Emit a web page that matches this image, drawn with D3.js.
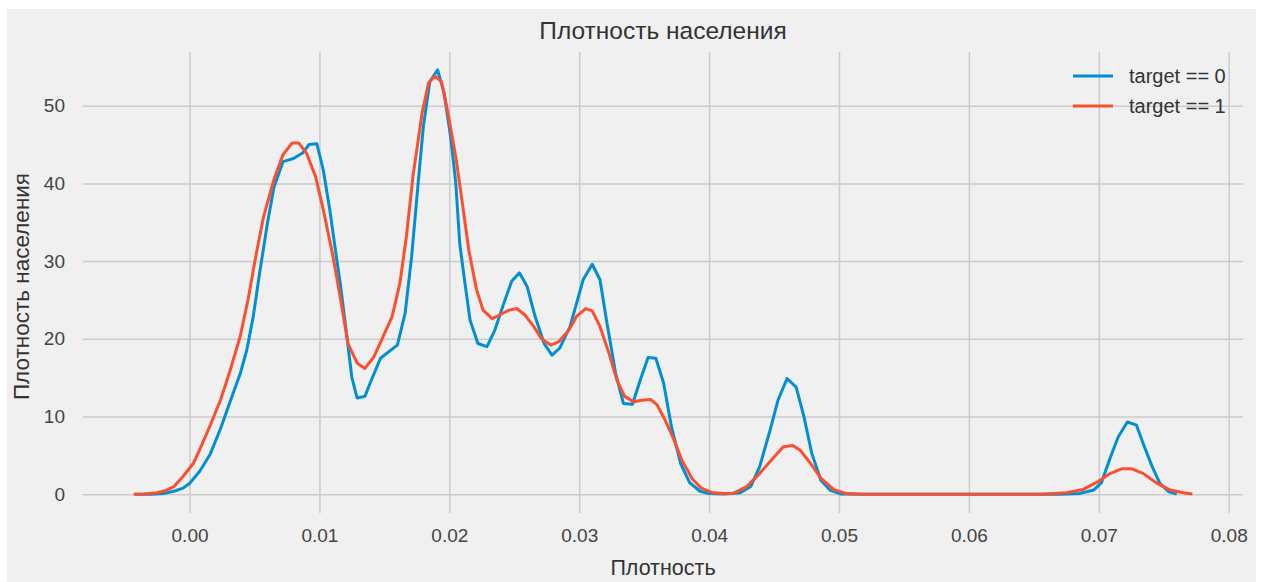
<!DOCTYPE html>
<html>
<head>
<meta charset="utf-8">
<script src="https://cdn.jsdelivr.net/npm/d3@7"></script>
<style>
  body { margin: 0; background: #fff; }
  svg { display: block; font-family: "Liberation Sans", Arial, sans-serif; }
</style>
</head>
<body>
<svg width="1261" height="582"></svg>
<script>
// density curves (x = плотность, y = плотность населения)
const x0 = [-0.0042,-0.0030,-0.0020,-0.0012,-0.0005,0.0000,0.0008,0.0016,0.0024,0.0031,0.0039,0.0044,0.0049,0.0054,0.0060,0.0065,0.0072,0.0080,0.0087,0.0092,0.0098,0.0103,0.0108,0.0113,0.0116,0.0121,0.0125,0.0129,0.0135,0.0140,0.0147,0.0153,0.0160,0.0166,0.0171,0.0176,0.0180,0.0185,0.0191,0.0196,0.0201,0.0205,0.0208,0.0212,0.0216,0.0222,0.0229,0.0235,0.0242,0.0248,0.0254,0.0260,0.0266,0.0273,0.0279,0.0285,0.0293,0.0303,0.0310,0.0316,0.0321,0.0328,0.0334,0.0341,0.0347,0.0353,0.0359,0.0365,0.0371,0.0378,0.0385,0.0393,0.0400,0.0412,0.0424,0.0432,0.0439,0.0447,0.0453,0.0460,0.0467,0.0473,0.0479,0.0486,0.0493,0.0501,0.0520,0.0600,0.0670,0.0685,0.0696,0.0702,0.0709,0.0715,0.0722,0.0729,0.0734,0.0741,0.0747,0.0754,0.0760];
const y0 = [0,0.02,0.1,0.4,0.8,1.4,3.0,5.2,8.5,11.8,15.5,18.5,22.8,28.5,34.9,39.5,42.8,43.2,43.9,45.0,45.1,41.7,36.6,30.6,27.2,20.5,15.0,12.4,12.6,14.7,17.5,18.3,19.2,23.3,30.6,40.0,47.3,53.1,54.6,51.6,46.0,40.0,32.3,27.2,22.4,19.4,19.0,21.1,24.6,27.4,28.5,26.7,22.9,19.4,17.9,18.8,21.6,27.6,29.6,27.6,22.4,15.6,11.7,11.6,14.7,17.6,17.5,14.3,8.7,4.0,1.5,0.4,0.1,0.05,0.2,1.0,3.6,8.3,12.1,14.9,13.8,10.0,5.3,1.8,0.55,0.05,0,0,0,0.1,0.55,1.5,4.8,7.4,9.3,8.9,6.6,3.6,1.4,0.33,0.02];

const x1 = [-0.0043,-0.0035,-0.0025,-0.0018,-0.0012,-0.0005,0.0003,0.0008,0.0016,0.0024,0.0031,0.0039,0.0045,0.0051,0.0057,0.0065,0.0072,0.0079,0.0084,0.0090,0.0097,0.0103,0.0110,0.0116,0.0122,0.0129,0.0135,0.0142,0.0148,0.0156,0.0162,0.0167,0.0172,0.0179,0.0184,0.0189,0.0194,0.0199,0.0205,0.0210,0.0215,0.0221,0.0226,0.0233,0.0239,0.0246,0.0252,0.0258,0.0265,0.0271,0.0278,0.0284,0.0292,0.0298,0.0305,0.0310,0.0316,0.0323,0.0329,0.0335,0.0342,0.0348,0.0355,0.0360,0.0366,0.0373,0.0379,0.0387,0.0394,0.0403,0.0412,0.0419,0.0429,0.0439,0.0450,0.0457,0.0464,0.0470,0.0478,0.0486,0.0496,0.0506,0.0520,0.0600,0.0655,0.0675,0.0688,0.0699,0.0709,0.0718,0.0725,0.0734,0.0745,0.0755,0.0765,0.0772];
const y1 = [0,0.03,0.2,0.5,1.0,2.3,4.0,5.8,8.9,12.2,15.8,20.3,25.0,30.6,35.7,40.5,43.7,45.2,45.2,43.9,40.9,36.6,31.0,25.4,19.4,16.9,16.2,17.7,19.9,22.9,27.2,33.2,40.9,49.0,52.9,53.8,53.1,49.0,43.4,37.5,31.4,26.3,23.7,22.6,23.1,23.7,23.9,23.1,21.6,20.0,19.2,19.6,21.1,22.9,23.9,23.6,21.6,18.1,14.7,12.6,11.9,12.1,12.2,11.5,9.6,7.0,4.4,2.0,0.8,0.2,0.1,0.15,1.0,2.7,4.8,6.1,6.3,5.7,4.0,2.1,0.6,0.1,0.02,0,0,0.2,0.64,1.6,2.7,3.3,3.3,2.7,1.4,0.55,0.2,0.05];

const seriesNames = ["target == 0", "target == 1"];
const colors = ["#008fd5", "#fc4f30"];
const xTicks = [0, 0.01, 0.02, 0.03, 0.04, 0.05, 0.06, 0.07, 0.08];
const yTicks = [0, 10, 20, 30, 40, 50];

const svg = d3.select("svg");
const width = +svg.attr("width");
const height = +svg.attr("height");

svg.append("rect")
  .attr("x", 7).attr("y", 9)
  .attr("width", width - 12).attr("height", height - 9)
  .attr("fill", "#f0f0f0");

const margin = {top: 52, right: 18, bottom: 69, left: 83};
const innerWidth = width - margin.left - margin.right;
const innerHeight = height - margin.top - margin.bottom;

const xScale = d3.scaleLinear()
  .domain([-0.0082, 0.0811])
  .range([0, innerWidth]);

const yScale = d3.scaleLinear()
  .domain([-2.4, 56.9])
  .range([innerHeight, 0]);

const g = svg.append("g")
  .attr("transform", `translate(${margin.left}, ${margin.top})`);

// grid + tick labels
const xAxis = g.append("g")
  .attr("transform", `translate(0, ${innerHeight})`)
  .call(d3.axisBottom(xScale).tickValues(xTicks).tickFormat(d3.format(".2f"))
    .tickSize(-innerHeight).tickPadding(16));

const yAxis = g.append("g")
  .call(d3.axisLeft(yScale).tickValues(yTicks).tickFormat(d3.format("d"))
    .tickSize(-innerWidth).tickPadding(18));

[xAxis, yAxis].forEach(ax => {
  ax.select(".domain").remove();
  ax.selectAll(".tick line").attr("stroke", "#cbcbcb").attr("stroke-width", 1.5);
  ax.selectAll(".tick text")
    .attr("fill", "#444")
    .style("font-size", "19px");
});

const line = d3.line()
  .x(d => xScale(d[0]))
  .y(d => yScale(d[1]));

const series = [d3.zip(x0, y0), d3.zip(x1, y1)];

g.selectAll(".curve").data(series)
  .enter().append("path")
    .attr("class", "curve")
    .attr("d", line)
    .attr("fill", "none")
    .attr("stroke", (d, i) => colors[i])
    .attr("stroke-width", 3)
    .attr("stroke-linejoin", "round");

// title and axis labels
svg.append("text")
  .attr("x", margin.left + innerWidth / 2)
  .attr("y", 39)
  .attr("text-anchor", "middle")
  .attr("fill", "#333")
  .style("font-size", "24.5px")
  .text("Плотность населения");

svg.append("text")
  .attr("x", margin.left + innerWidth / 2)
  .attr("y", 575)
  .attr("text-anchor", "middle")
  .attr("fill", "#333")
  .style("font-size", "21.5px")
  .text("Плотность");

svg.append("text")
  .attr("transform", `translate(29, ${margin.top + innerHeight / 2 + 4}) rotate(-90)`)
  .attr("text-anchor", "middle")
  .attr("fill", "#333")
  .style("font-size", "22.5px")
  .text("Плотность населения");

// legend
const legend = svg.append("g")
  .attr("transform", "translate(1073, 76)");

const item = legend.selectAll("g").data(seriesNames)
  .enter().append("g")
    .attr("transform", (d, i) => `translate(0, ${i * 30})`);

item.append("line")
  .attr("x1", 0).attr("x2", 40)
  .attr("stroke", (d, i) => colors[i])
  .attr("stroke-width", 3);

item.append("text")
  .attr("x", 56)
  .attr("dy", "0.35em")
  .attr("fill", "#333")
  .style("font-size", "20px")
  .text(d => d);
</script>
</body>
</html>
